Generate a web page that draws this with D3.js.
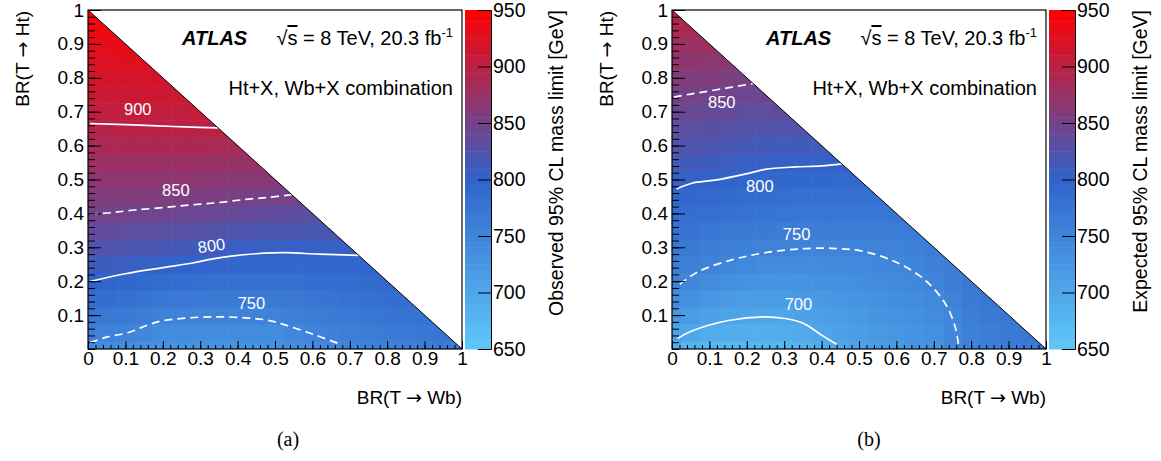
<!DOCTYPE html>
<html><head><meta charset="utf-8">
<script src="https://cdn.jsdelivr.net/npm/d3@7"></script>
<style>
body{margin:0;background:#fff}
text{font-family:"Liberation Sans",Arial,Helvetica,sans-serif}
</style>
</head><body>
<svg id="chart" width="1161" height="461"></svg>
<script>
// ---------- data ----------
const gridStep = 0.05;
const axisTicks = [0,0.1,0.2,0.3,0.4,0.5,0.6,0.7,0.8,0.9,1];
const axisTickLabels = ["0","0.1","0.2","0.3","0.4","0.5","0.6","0.7","0.8","0.9","1"];
const cbTicks = [650,700,750,800,850,900,950];
const colorStops = [650,800,950];
const colorRange = ["#5ec8f8","#3063cb","#ff0000"];

// rows: y = 0, 0.05, ..., 1 ; within a row x = 0, 0.05, ...
const obsRows = [
 [744,740,737,733,730,729,728,728,729,730,732,736,740,745,750,753,756,759,762,765,768],
 [758,754,751,745,740,739,738,738,739,740,741,746,751,755,759,762,765,768,770,773],
 [772,769,766,760,755,753,752,752,752,753,754,757,761,764,768,771,774,776,778],
 [786,783,780,775,771,769,767,766,766,766,766,769,772,774,777,780,783,785],
 [800,797,794,790,787,784,782,780,779,779,779,781,783,785,787,790,792],
 [812,810,807,805,803,800,798,795,793,792,792,792,793,794,796,798],
 [825,823,821,819,817,814,812,810,807,806,805,804,804,805,806],
 [837,836,834,832,831,829,827,825,822,821,820,819,818,819],
 [850,849,848,846,845,843,842,840,838,836,835,833,832],
 [859,858,858,857,856,856,855,854,852,851,850,849],
 [868,868,867,867,867,867,866,865,863,863,862],
 [878,877,877,877,877,877,877,876,874,873],
 [887,888,888,888,888,888,888,887,885],
 [897,897,898,898,898,898,899,899],
 [905,905,905,906,906,906,907],
 [911,912,912,913,913,914],
 [918,918,918,919,920],
 [925,925,926,927],
 [931,932,933],
 [938,939],
 [945]
];
const expRows = [
 [691,683,676,675,675,676,677,683,692,699,706,712,718,724,729,745,754,758,763,768,772],
 [707,699,692,690,689,689,690,695,701,707,713,719,724,729,734,745,757,762,767,771],
 [723,715,708,705,703,702,702,706,711,716,721,726,730,735,739,748,761,766,771],
 [739,731,724,720,716,715,715,718,721,725,728,732,736,740,744,752,765,770],
 [753,746,740,735,730,728,727,729,731,733,736,739,742,746,751,760,769],
 [761,757,753,748,744,741,740,740,741,742,743,745,748,751,755,762],
 [770,766,762,759,756,754,752,751,751,751,751,752,754,757,760],
 [779,776,772,769,766,764,762,761,761,761,761,762,763,765],
 [788,785,782,779,776,774,772,771,771,771,771,771,772],
 [796,794,791,789,786,784,782,781,781,781,781,781],
 [805,803,801,798,796,794,793,792,792,791,791],
 [815,813,811,808,806,804,803,802,802,801],
 [824,822,820,818,816,814,813,812,812],
 [833,832,830,828,825,824,823,822],
 [842,841,839,837,834,834,833],
 [851,850,848,846,843,843],
 [861,859,857,855,852],
 [871,869,867,865],
 [881,878,876],
 [891,888],
 [900]
];

// contour lines [BR(Wb), BR(Ht)]
const obs900 = [[0.005,0.665],[0.1,0.662],[0.17,0.659],[0.26,0.655],[0.348,0.652]];
const obs850 = [[0.005,0.398],[0.06,0.402],[0.124,0.41],[0.2,0.417],[0.276,0.425],[0.35,0.432],[0.419,0.441],[0.48,0.447],[0.545,0.455]];
const obs800 = [[0.005,0.199],[0.1,0.222],[0.2,0.24],[0.276,0.253],[0.33,0.265],[0.383,0.274],[0.45,0.281],[0.527,0.284],[0.616,0.28],[0.724,0.276]];
const obs750 = [[0.005,0.018],[0.05,0.035],[0.106,0.048],[0.186,0.08],[0.26,0.091],[0.339,0.095],[0.419,0.092],[0.48,0.085],[0.527,0.071],[0.608,0.041],[0.68,0.012]];
const exp850 = [[0.005,0.743],[0.05,0.752],[0.115,0.764],[0.217,0.783]];
const exp800 = [[0.012,0.472],[0.053,0.489],[0.115,0.498],[0.204,0.518],[0.249,0.53],[0.33,0.537],[0.4,0.54],[0.454,0.546]];
const exp750 = [[0.021,0.191],[0.07,0.228],[0.16,0.263],[0.249,0.284],[0.338,0.295],[0.427,0.297],[0.516,0.287],[0.605,0.253],[0.676,0.204],[0.73,0.135],[0.757,0.066],[0.766,0.012]];
const exp700 = [[0.015,0.031],[0.053,0.053],[0.151,0.084],[0.249,0.095],[0.302,0.09],[0.351,0.076],[0.4,0.041],[0.44,0.014]];

const obsLabels = [["900",0.133,0.707,0],["850",0.235,0.469,0],["800",0.33,0.305,-8],["750",0.437,0.136,0]];
const expLabels = [["850",0.133,0.727,0],["800",0.235,0.479,0],["750",0.333,0.339,0],["700",0.338,0.132,0]];

// ---------- drawing ----------
const svg = d3.select("#chart");
const color = d3.scaleLinear().domain(colorStops).range(colorRange).clamp(true);
const FS = 19;

function arrowText(sel, a, b){
  sel.append("tspan").text(a);
  sel.append("tspan").text("\u2192").style("font-family",'"DejaVu Sans",sans-serif');
  sel.append("tspan").text(b);
}

function drawPanel(cfg){
  const x = d3.scaleLinear([0,1],[cfg.left,cfg.right]);
  const y = d3.scaleLinear([0,1],[cfg.bottom,cfg.top]);
  const g = svg.append("g");
  const clipId = "clip"+cfg.id;
  svg.append("clipPath").attr("id",clipId).append("path")
    .attr("d",`M${x(0)},${y(0)}L${x(1)},${y(0)}L${x(0)},${y(1)}Z`);

  const cells = [];
  cfg.rows.forEach((row,j)=>row.forEach((v,i)=>cells.push({cx:i*gridStep,cy:j*gridStep,v})));
  const cw = x(gridStep)-x(0), ch = y(0)-y(gridStep);
  g.append("g").attr("clip-path",`url(#${clipId})`)
    .selectAll("rect").data(cells).join("rect")
    .attr("x",d=>x(d.cx-gridStep/2)).attr("y",d=>y(d.cy+gridStep/2))
    .attr("width",cw+0.6).attr("height",ch+0.6)
    .attr("fill",d=>color(d.v));

  // contours
  const line = d3.line().x(d=>x(d[0])).y(d=>y(d[1])).curve(d3.curveCatmullRom.alpha(0.5));
  cfg.contours.forEach(c=>{
    g.append("path").attr("d",line(c.pts)).attr("fill","none")
      .attr("stroke","#fff").attr("stroke-width",1.7)
      .attr("stroke-dasharray",c.dashed?"8,5":null);
  });
  cfg.labels.forEach(l=>{
    g.append("text").text(l[0])
      .attr("transform",`translate(${x(l[1])},${y(l[2])}) rotate(${l[3]})`)
      .attr("text-anchor","middle").attr("dy","0.35em")
      .attr("fill","#fff").style("font-size","16.5px");
  });

  // diagonal
  g.append("line").attr("x1",x(0)).attr("y1",y(1)).attr("x2",x(1)).attr("y2",y(0))
    .attr("stroke","#000").attr("stroke-width",1);

  // frame
  g.append("rect").attr("x",cfg.left).attr("y",cfg.top)
    .attr("width",cfg.right-cfg.left).attr("height",cfg.bottom-cfg.top)
    .attr("fill","none").attr("stroke","#000").attr("stroke-width",1.2);

  // axes
  const minor = d3.range(0,1.0001,0.02);
  const xMinor = g.append("g").attr("transform",`translate(0,${cfg.bottom})`)
    .call(d3.axisBottom(x).tickValues(minor).tickSize(-4).tickFormat(""));
  const xMajor = g.append("g").attr("transform",`translate(0,${cfg.bottom})`)
    .call(d3.axisBottom(x).tickValues(axisTicks).tickSize(-8).tickPadding(2)
      .tickFormat((d,i)=>axisTickLabels[i]));
  const yMinor = g.append("g").attr("transform",`translate(${cfg.left},0)`)
    .call(d3.axisLeft(y).tickValues(minor).tickSize(-7).tickFormat(""));
  const yMajor = g.append("g").attr("transform",`translate(${cfg.left},0)`)
    .call(d3.axisLeft(y).tickValues(axisTicks.slice(1)).tickSize(-13).tickPadding(4)
      .tickFormat((d,i)=>axisTickLabels[i+1]));
  [xMinor,xMajor,yMinor,yMajor].forEach(a=>{
    a.select(".domain").remove();
    a.selectAll("line").attr("stroke","#000");
    a.selectAll("text").style("font-size",FS+"px").attr("fill","#000")
      .style("font-family",'"Liberation Sans",Arial,sans-serif');
  });

  // axis titles
  arrowText(g.append("text")
    .attr("transform",`translate(${cfg.left-59},${cfg.top+1}) rotate(-90)`)
    .attr("text-anchor","end").style("font-size",FS+"px"), "BR(T ", " Ht)");
  arrowText(g.append("text")
    .attr("x",cfg.right).attr("y",404)
    .attr("text-anchor","end").style("font-size",FS+"px"), "BR(T ", " Wb)");

  // colour bar
  const cy = d3.scaleLinear([650,950],[cfg.bottom,cfg.top]);
  const steps = d3.range(650,950,5);
  g.append("g").selectAll("rect").data(steps).join("rect")
    .attr("x",cfg.cbLeft).attr("width",cfg.cbRight-cfg.cbLeft)
    .attr("y",d=>cy(d+5)).attr("height",cy(650)-cy(655)+0.5)
    .attr("fill",d=>color(d+2.5));
  const cAx = g.append("g").attr("transform",`translate(${cfg.cbRight},0)`)
    .call(d3.axisRight(cy).tickValues(cbTicks).tickSize(-13).tickPadding(2));
  cAx.select(".domain").attr("stroke","#000");
  cAx.selectAll("line").attr("stroke","#000");
  cAx.selectAll("text").style("font-size","19.5px").attr("fill","#000")
    .style("font-family",'"Liberation Sans",Arial,sans-serif');
  g.append("text").text(cfg.cbTitle)
    .attr("transform",`translate(${cfg.cbRight+72},${cfg.top}) rotate(-90)`)
    .attr("text-anchor","end").style("font-size","19.5px");

  // annotations
  g.append("text").text("ATLAS").attr("x",cfg.left+94).attr("y",45)
    .style("font-size","20px").style("font-weight","bold").style("font-style","italic");
  const t = g.append("text").attr("x",cfg.right-9).attr("y",45)
    .attr("text-anchor","end").style("font-size","20px");
  t.append("tspan").text("\u221A");
  t.append("tspan").text("s").style("text-decoration","overline");
  t.append("tspan").text(" = 8 TeV, 20.3 fb");
  t.append("tspan").text("-1").attr("dy",-8).style("font-size","13px");
  g.append("text").text("Ht+X, Wb+X combination").attr("x",cfg.right-9).attr("y",95)
    .attr("text-anchor","end").style("font-size","20px");

  g.append("text").text(cfg.tag).attr("x",cfg.tagX).attr("y",446)
    .attr("text-anchor","middle").style("font-size","20px")
    .style("font-family",'"Liberation Serif","Times New Roman",serif');
}

drawPanel({id:"a",left:88,right:462,top:10,bottom:349,cbLeft:465,cbRight:491,
  rows:obsRows,
  contours:[{pts:obs900,dashed:false},{pts:obs850,dashed:true},{pts:obs800,dashed:false},{pts:obs750,dashed:true}],
  labels:obsLabels,cbTitle:"Observed 95% CL mass limit [GeV]",tag:"(a)",tagX:288});
drawPanel({id:"b",left:672,right:1046,top:10,bottom:349,cbLeft:1049,cbRight:1075,
  rows:expRows,
  contours:[{pts:exp850,dashed:true},{pts:exp800,dashed:false},{pts:exp750,dashed:true},{pts:exp700,dashed:false}],
  labels:expLabels,cbTitle:"Expected 95% CL mass limit [GeV]",tag:"(b)",tagX:869});
</script>
</body></html>
